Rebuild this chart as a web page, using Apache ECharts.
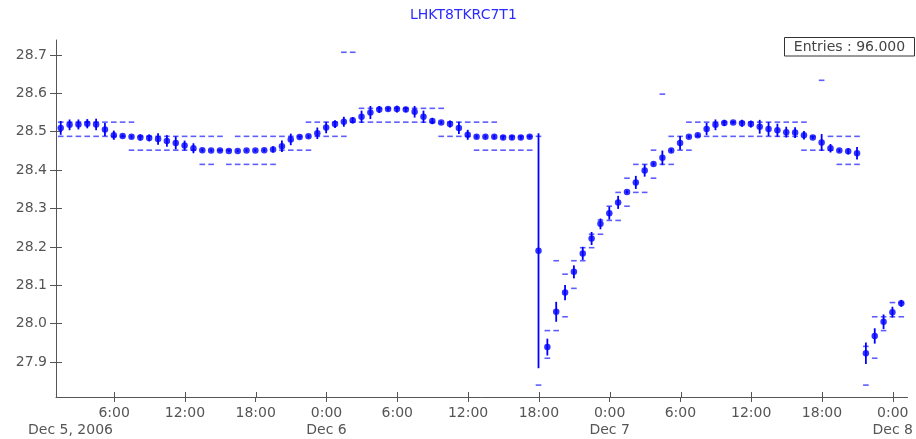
<!DOCTYPE html>
<html>
<head>
<meta charset="utf-8">
<script src="https://cdn.jsdelivr.net/npm/echarts@6/dist/echarts.min.js"></script>
<style>
  html, body { margin: 0; padding: 0; background: #ffffff; }
  #chart { width: 916px; height: 439px; }
</style>
</head>
<body>
<div id="chart"></div>
<script>
// Channel profile: 45-minute bins, hours counted from Dec 5, 2006 00:00
const chartTitle = 'LHKT8TKRC7T1';
const firstBinCentre = 1.47;
const binHours = 0.75;

// mean of each bin
const meanValues = [
  28.510, 28.518, 28.519, 28.521, 28.519, 28.506, 28.491, 28.489, 28.487, 28.485,
  28.484, 28.481, 28.476, 28.471, 28.464, 28.457, 28.452, 28.451, 28.451, 28.450,
  28.450, 28.451, 28.451, 28.452, 28.454, 28.462, 28.480, 28.486, 28.488, 28.496,
  28.511, 28.520, 28.526, 28.530, 28.539, 28.550, 28.558, 28.559, 28.559, 28.558,
  28.552, 28.539, 28.528, 28.524, 28.520, 28.510, 28.492, 28.487, 28.487, 28.487,
  28.485, 28.485, 28.485, 28.487, 28.190, 27.939, 28.031, 28.081, 28.135, 28.183,
  28.222, 28.260, 28.288, 28.316, 28.343, 28.368, 28.399, 28.416, 28.432, 28.451,
  28.471, 28.487, 28.491, 28.507, 28.518, 28.523, 28.524, 28.522, 28.520, 28.513,
  28.507, 28.504, 28.499, 28.498, 28.491, 28.485, 28.472, 28.457, 28.451, 28.449,
  28.444, 27.923, 27.968, 28.005, 28.030, 28.053
];

// rms of each bin (half length of the error bar)
const rmsValues = [
  0.018, 0.014, 0.013, 0.012, 0.015, 0.017, 0.012, 0.004, 0.004, 0.008,
  0.009, 0.015, 0.015, 0.017, 0.013, 0.013, 0.004, 0.003, 0.003, 0.003,
  0.003, 0.003, 0.003, 0.004, 0.008, 0.015, 0.015, 0.004, 0.004, 0.015,
  0.015, 0.010, 0.013, 0.008, 0.016, 0.017, 0.009, 0.004, 0.009, 0.007,
  0.015, 0.016, 0.008, 0.004, 0.009, 0.016, 0.013, 0.004, 0.004, 0.005,
  0.005, 0.005, 0.005, 0.004, 0.306, 0.022, 0.026, 0.020, 0.017, 0.017,
  0.017, 0.014, 0.017, 0.017, 0.004, 0.017, 0.016, 0.004, 0.019, 0.005,
  0.018, 0.004, 0.004, 0.016, 0.014, 0.008, 0.004, 0.009, 0.009, 0.018,
  0.018, 0.017, 0.014, 0.014, 0.011, 0.004, 0.022, 0.011, 0.004, 0.008,
  0.016, 0.028, 0.020, 0.019, 0.014, 0.009
];

// lowest reading in each bin
const minValues = [
  28.488, 28.488, 28.488, 28.488, 28.488, 28.488, 28.488, 28.488, 28.452, 28.452,
  28.452, 28.452, 28.452, 28.452, 28.452, 28.452, 28.415, 28.415, 28.452, 28.415,
  28.415, 28.415, 28.415, 28.415, 28.415, 28.452, 28.452, 28.452, 28.452, 28.488,
  28.488, 28.488, 28.488, 28.525, 28.525, 28.525, 28.525, 28.525, 28.525, 28.525,
  28.525, 28.525, 28.525, 28.488, 28.488, 28.488, 28.488, 28.452, 28.452, 28.452,
  28.452, 28.452, 28.452, 28.452, 27.840, 27.910, 27.982, 28.018, 28.092, 28.164,
  28.198, 28.233, 28.269, 28.269, 28.306, 28.342, 28.342, 28.379, 28.415, 28.415,
  28.452, 28.452, 28.488, 28.488, 28.488, 28.488, 28.488, 28.488, 28.488, 28.488,
  28.488, 28.488, 28.488, 28.488, 28.452, 28.452, 28.452, 28.452, 28.415, 28.415,
  28.415, 27.840, 27.910, 27.982, 28.018, 28.018
];

// highest reading in each bin
const maxValues = [
  28.525, 28.525, 28.525, 28.525, 28.525, 28.525, 28.525, 28.525, 28.525, 28.488,
  28.488, 28.488, 28.488, 28.488, 28.488, 28.488, 28.488, 28.488, 28.488, 28.452,
  28.488, 28.488, 28.488, 28.488, 28.488, 28.488, 28.488, 28.488, 28.525, 28.525,
  28.525, 28.525, 28.707, 28.707, 28.561, 28.561, 28.561, 28.561, 28.561, 28.561,
  28.561, 28.561, 28.561, 28.561, 28.525, 28.525, 28.525, 28.525, 28.525, 28.525,
  28.488, 28.488, 28.488, 28.488, 28.488, 27.982, 28.164, 28.129, 28.164, 28.198,
  28.233, 28.270, 28.306, 28.342, 28.379, 28.415, 28.415, 28.452, 28.598, 28.488,
  28.488, 28.525, 28.525, 28.525, 28.525, 28.525, 28.525, 28.525, 28.525, 28.525,
  28.525, 28.525, 28.525, 28.525, 28.525, 28.488, 28.634, 28.488, 28.488, 28.488,
  28.488, 27.941, 28.018, 28.018, 28.055, 28.055
];

const yTicks = [27.9, 28.0, 28.1, 28.2, 28.3, 28.4, 28.5, 28.6, 28.7];
const hourTicks = [6, 12, 18, 24, 30, 36, 42, 48, 54, 60, 66, 72];
const dayNames = ['Dec 5, 2006', 'Dec 6', 'Dec 7', 'Dec 8'];

const font = 'DejaVu Sans';
const axisGrey = '#555555';
const pointBlue = '#0000ff';
const rangeBlue = '#5c5cff';

const times = meanValues.map((_, i) => firstBinCentre + i * binHours);
const pointData = times.map((t, i) => [t, meanValues[i]]);
const errorData = times.map((t, i) => [t, meanValues[i] - rmsValues[i], meanValues[i] + rmsValues[i]]);
const rangeData = times.map((t, i) => [t, minValues[i], maxValues[i]]);

function hourLabel(v) {
  const h = Math.round(v);
  if (h % 24 === 0) return '0:00\n' + dayNames[h / 24];
  return (h % 24) + ':00';
}

const labelStyle = { color: axisGrey, fontSize: 14, fontFamily: font };
const xMin = 1.07, xMax = 73.25;
const yMin = 27.809, yMax = 28.739;

const chart = echarts.init(document.getElementById('chart'));
chart.setOption({
  animation: false,
  backgroundColor: '#ffffff',
  title: {
    text: chartTitle,
    left: 410, top: 8, padding: 0,
    textStyle: { color: '#2b2bff', fontSize: 14, fontWeight: 'normal', fontFamily: font }
  },
  grid: [
    { left: 56, right: 8, top: 40, bottom: 42 },
    { left: 56, right: 8, top: 40, bottom: 42 }
  ],
  xAxis: [
    {
      type: 'value', gridIndex: 0, min: xMin, max: xMax,
      axisLine: { show: true, onZero: false, lineStyle: { color: axisGrey, width: 1 } },
      axisTick: { show: true, length: 5, customValues: hourTicks, lineStyle: { color: axisGrey } },
      axisLabel: Object.assign({ customValues: hourTicks, formatter: hourLabel, margin: 8, lineHeight: 17 }, labelStyle),
      splitLine: { show: false }
    },
    {
      type: 'value', gridIndex: 1, min: xMin, max: xMax,
      axisLine: { show: false, onZero: false },
      axisTick: { show: true, inside: true, length: 5, customValues: hourTicks, lineStyle: { color: axisGrey } },
      axisLabel: { show: false },
      splitLine: { show: false }
    }
  ],
  yAxis: [
    {
      type: 'value', gridIndex: 0, min: yMin, max: yMax,
      axisLine: { show: true, onZero: false, lineStyle: { color: axisGrey, width: 1 } },
      axisTick: { show: true, length: 6, customValues: yTicks, lineStyle: { color: axisGrey } },
      axisLabel: Object.assign({ customValues: yTicks, formatter: v => v.toFixed(1), margin: 9 }, labelStyle),
      splitLine: { show: false }
    },
    {
      type: 'value', gridIndex: 1, min: yMin, max: yMax,
      axisLine: { show: false, onZero: false },
      axisTick: { show: true, inside: true, length: 6, customValues: yTicks, lineStyle: { color: axisGrey } },
      axisLabel: { show: false },
      splitLine: { show: false }
    }
  ],
  series: [
    {
      name: 'range',
      type: 'custom',
      xAxisIndex: 0, yAxisIndex: 0,
      data: rangeData,
      encode: { x: 0, y: [1, 2] },
      renderItem: function (params, api) {
        const t = api.value(0);
        const lo = api.coord([t, api.value(1)]);
        const hi = api.coord([t, api.value(2)]);
        const half = 2.8;
        const style = { stroke: rangeBlue, lineWidth: 1.6 };
        return {
          type: 'group',
          children: [
            { type: 'line', shape: { x1: lo[0] - half, y1: lo[1], x2: lo[0] + half, y2: lo[1] }, style: style },
            { type: 'line', shape: { x1: hi[0] - half, y1: hi[1], x2: hi[0] + half, y2: hi[1] }, style: style }
          ]
        };
      },
      z: 2
    },
    {
      name: 'rms',
      type: 'custom',
      xAxisIndex: 0, yAxisIndex: 0,
      data: errorData,
      encode: { x: 0, y: [1, 2] },
      renderItem: function (params, api) {
        const t = api.value(0);
        const lo = api.coord([t, api.value(1)]);
        const hi = api.coord([t, api.value(2)]);
        return {
          type: 'line',
          shape: { x1: lo[0], y1: lo[1], x2: hi[0], y2: hi[1] },
          style: { stroke: pointBlue, lineWidth: 1.8 }
        };
      },
      z: 3
    },
    {
      name: 'mean',
      type: 'scatter',
      xAxisIndex: 0, yAxisIndex: 0,
      data: pointData,
      symbol: 'circle',
      symbolSize: 6.5,
      itemStyle: { color: pointBlue },
      z: 4
    }
  ],
  graphic: [
    {
      type: 'text',
      left: 28, top: 423,
      style: { text: dayNames[0], fill: axisGrey, fontSize: 14, fontFamily: font }
    },
    {
      type: 'group',
      left: 784, top: 37,
      children: [
        {
          type: 'rect',
          shape: { x: 0.5, y: 0.5, width: 130, height: 18.5 },
          style: { fill: '#ffffff', stroke: '#333333', lineWidth: 1 }
        },
        {
          type: 'text',
          x: 65.5, y: 10,
          style: {
            text: 'Entries : ' + meanValues.length.toFixed(3),
            fill: '#444444', fontSize: 14, fontFamily: font,
            align: 'center', verticalAlign: 'middle'
          }
        }
      ]
    }
  ]
});
</script>
</body>
</html>
